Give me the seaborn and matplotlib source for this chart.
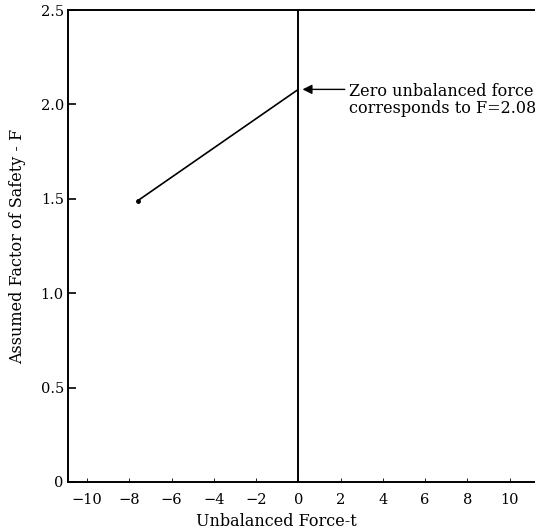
import matplotlib
matplotlib.use("Agg")
import matplotlib.pyplot as plt
import seaborn as sns
import pandas as pd

# data
unbalanced_force = [-7.6, 0.0]
factor_of_safety = [1.49, 2.08]
x_ticks = [-10, -8, -6, -4, -2, 0, 2, 4, 6, 8, 10]
y_ticks = [0, 0.5, 1.0, 1.5, 2.0, 2.5]
y_tick_labels = ["0", "0.5", "1.0", "1.5", "2.0", "2.5"]
note = "Zero unbalanced force\ncorresponds to F=2.08"

sns.set_theme(style="ticks")
plt.rcParams["font.family"] = ["DejaVu Serif", "Liberation Serif"]

df = pd.DataFrame({"t": unbalanced_force, "F": factor_of_safety})

fig = plt.figure(figsize=(5.35, 5.32), dpi=100)
ax = fig.add_axes([0.127, 0.094, 0.873, 0.887])

sns.lineplot(data=df, x="t", y="F", color="black", linewidth=1.2, ax=ax)
ax.plot(df["t"].iloc[:1], df["F"].iloc[:1], "o", color="black", markersize=2.5)
ax.axvline(0, color="black", linewidth=1.4)

# arrow pointing at the zero-force value, with the note to its right
ax.annotate("", xy=(0.2, factor_of_safety[1]), xytext=(2.2, factor_of_safety[1]),
            arrowprops=dict(arrowstyle="-|>", color="black", lw=1.0,
                            mutation_scale=14, shrinkA=0, shrinkB=0))
ax.text(2.4, 2.025, note, fontsize=11.5, va="center", ha="left", linespacing=1.0,
        color="black")

ax.set_xlim(-10.9, 11.2)
ax.set_ylim(0, 2.5)
ax.set_xticks(x_ticks)
ax.set_xticklabels([str(v) if v >= 0 else "\u2212" + str(-v) for v in x_ticks])
ax.set_yticks(y_ticks)
ax.set_yticklabels(y_tick_labels)
ax.tick_params(axis="both", direction="in", length=6, width=1.2, labelsize=10.5,
               colors="black")
ax.tick_params(axis="x", length=3, width=0.6, pad=8)
ax.tick_params(axis="y", pad=3)

for side in ["left", "bottom", "top"]:
    ax.spines[side].set_color("black")
    ax.spines[side].set_linewidth(1.4)
ax.spines["right"].set_visible(False)

ax.set_xlabel("Unbalanced Force-t", fontsize=11.5, color="black")
ax.set_ylabel("Assumed Factor of Safety - F", fontsize=11.5, color="black")
ax.xaxis.set_label_coords(0.447, -0.065)
ax.yaxis.set_label_coords(-0.09, 0.5)

fig.savefig("out.png", dpi=100)
